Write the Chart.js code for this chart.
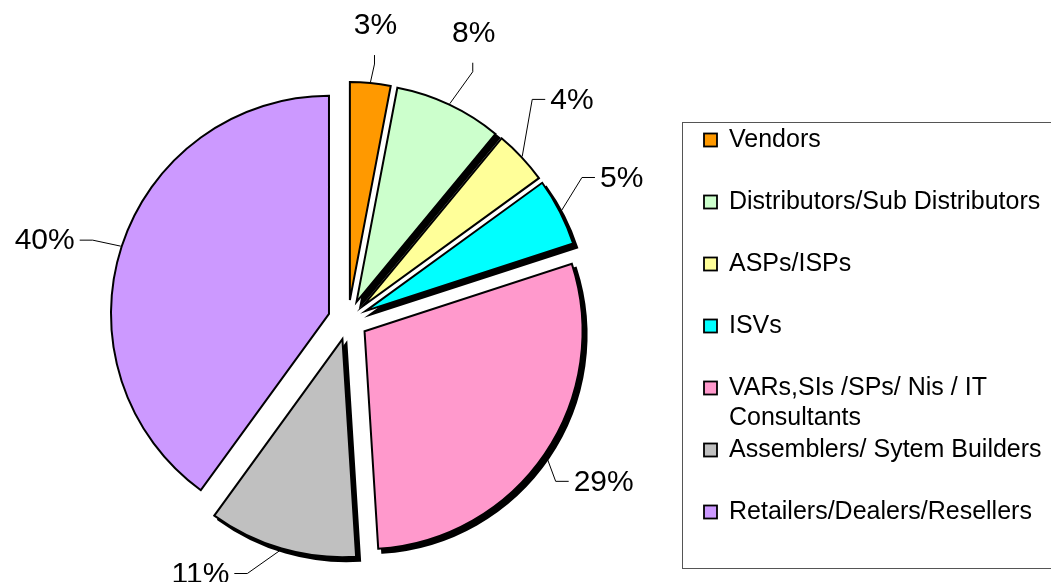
<!DOCTYPE html>
<html>
<head>
<meta charset="utf-8">
<script src="https://cdn.jsdelivr.net/npm/chart.js@4/dist/chart.umd.min.js"></script>
<style>
  html, body { margin: 0; padding: 0; background: #fff; }
  #wrap { width: 1051px; height: 582px; position: relative; }
</style>
</head>
<body>
<div id="wrap"><canvas id="pie"></canvas></div>
<script>
// data
const categories = [
  "Vendors",
  "Distributors/Sub Distributors",
  "ASPs/ISPs",
  "ISVs",
  "VARs,SIs /SPs/ Nis / IT Consultants",
  "Assemblers/ Sytem Builders",
  "Retailers/Dealers/Resellers"
];
const shares = [3, 8, 4, 5, 29, 11, 40];
const sliceColors = ["#FF9900", "#CCFFCC", "#FFFF99", "#00FFFF", "#FF99CC", "#C0C0C0", "#CC99FF"];
// slices that carry the black drop shadow
const shadowed = [false, true, false, true, true, true, false];
// leader line elbow, relative to the slice edge point; "up" = label sits above
const leaderElbows = [
  { dx: 4, dy: -18, up: true },
  { dx: 23, dy: -32, up: true },
  { dx: 10, dy: -57 },
  { dx: 21, dy: -34 },
  { dx: 10, dy: 27 },
  { dx: -34, dy: 24 },
  { dx: -28, dy: -6 }
];

const FONT = "'Liberation Sans', Arial, sans-serif";
const EXPLODE = 20;   // px each slice is pulled out
const RADIUS = 218;

// move every slice out from the centre along its mid angle and draw the shadows
const explodePlugin = {
  id: "explode",
  beforeDatasetsDraw(chart) {
    const ca = chart.chartArea;
    const cx = (ca.left + ca.right) / 2;
    const cy = (ca.top + ca.bottom) / 2;
    const meta = chart.getDatasetMeta(0);
    const ctx = chart.ctx;
    meta.data.forEach(arc => {
      const mid = (arc.startAngle + arc.endAngle) / 2;
      arc.x = cx + Math.cos(mid) * EXPLODE;
      arc.y = cy + Math.sin(mid) * EXPLODE;
    });
    meta.data.forEach((arc, i) => {
      if (!shadowed[i]) return;
      const ghost = Object.create(arc);
      ghost.x = arc.x + 4;
      ghost.y = arc.y + 4;
      ghost.options = Object.assign({}, arc.options, { backgroundColor: "#000", borderColor: "#000" });
      arc.draw.call(ghost, ctx);
    });
  }
};

// percentage labels with leader lines
const labelPlugin = {
  id: "pctLabels",
  afterDatasetsDraw(chart) {
    const ctx = chart.ctx;
    const meta = chart.getDatasetMeta(0);
    const total = shares.reduce((a, b) => a + b, 0);
    ctx.save();
    ctx.strokeStyle = "#000";
    ctx.lineWidth = 1;
    ctx.fillStyle = "#000";
    ctx.font = "30px " + FONT;
    meta.data.forEach((arc, i) => {
      const mid = (arc.startAngle + arc.endAngle) / 2;
      const r = arc.outerRadius;
      const ex = arc.x + Math.cos(mid) * (r + 1);
      const ey = arc.y + Math.sin(mid) * (r + 1);
      const el = leaderElbows[i];
      const px = ex + el.dx, py = ey + el.dy;
      const txt = Math.round(shares[i] / total * 100) + "%";
      ctx.beginPath();
      ctx.moveTo(ex, ey);
      ctx.lineTo(px, py);
      if (el.up) {
        ctx.lineTo(px, py - 9);
        ctx.stroke();
        ctx.textAlign = "center";
        ctx.textBaseline = "alphabetic";
        ctx.fillText(txt, px + 1, py - 30);
      } else {
        const s = el.dx >= 0 ? 1 : -1;
        ctx.lineTo(px + s * 13, py);
        ctx.stroke();
        ctx.textAlign = s > 0 ? "left" : "right";
        ctx.textBaseline = "middle";
        ctx.fillText(txt, px + s * 18, py + 1);
      }
    });
    ctx.restore();
  }
};

// boxed legend on the right
const legendPlugin = {
  id: "boxLegend",
  afterDraw(chart) {
    const ctx = chart.ctx;
    ctx.save();
    ctx.strokeStyle = "#555";
    ctx.lineWidth = 1;
    ctx.strokeRect(682.5, 122.5, 380, 446);
    ctx.font = "25px " + FONT;
    ctx.textBaseline = "middle";
    ctx.textAlign = "left";
    const maxW = 318;
    categories.forEach((name, i) => {
      const y = 140 + i * 62;
      ctx.fillStyle = sliceColors[i];
      ctx.fillRect(704, y - 6.5, 13, 13);
      ctx.strokeStyle = "#000";
      ctx.lineWidth = 1.8;
      ctx.strokeRect(704, y - 6.5, 13, 13);
      // simple word wrap
      const words = name.split(" ");
      const lines = [];
      let cur = "";
      words.forEach(w => {
        const test = cur ? cur + " " + w : w;
        if (ctx.measureText(test).width > maxW && cur) {
          lines.push(cur);
          cur = w;
        } else {
          cur = test;
        }
      });
      lines.push(cur);
      ctx.fillStyle = "#000";
      lines.forEach((ln, k) => ctx.fillText(ln, 729, y + k * 30));
    });
    ctx.restore();
  }
};

new Chart(document.getElementById("pie"), {
  type: "pie",
  data: {
    labels: categories,
    datasets: [{
      data: shares,
      backgroundColor: sliceColors,
      borderColor: "#000",
      borderWidth: 2,
      borderJoinStyle: "miter",
      clip: false
    }]
  },
  options: {
    responsive: true,
    maintainAspectRatio: false,
    animation: false,
    events: [],
    radius: RADIUS,
    layout: { padding: { left: 0, right: 355, top: 58, bottom: 0 } },
    plugins: {
      legend: { display: false },
      tooltip: { enabled: false },
      title: { display: false }
    }
  },
  plugins: [explodePlugin, labelPlugin, legendPlugin]
});
</script>
</body>
</html>
